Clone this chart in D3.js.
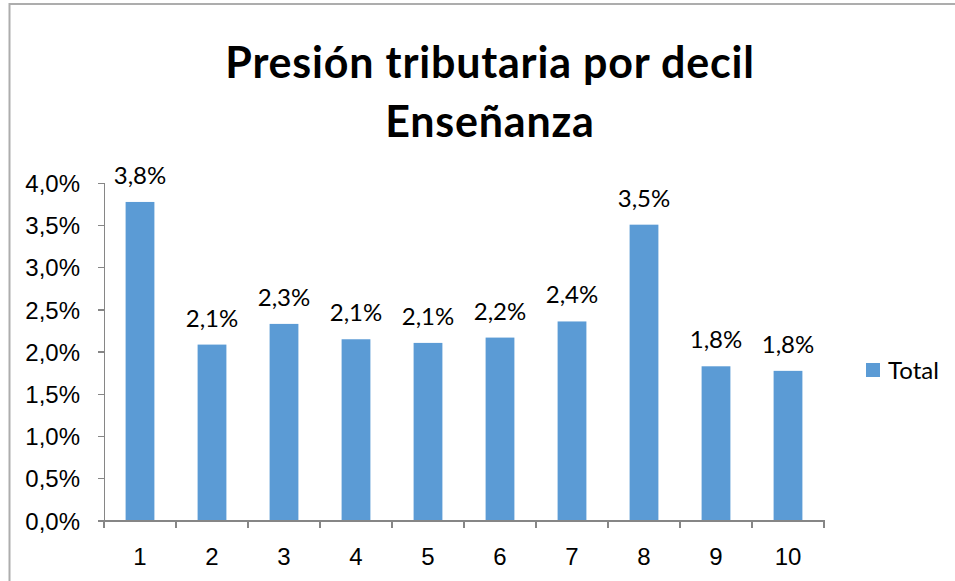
<!DOCTYPE html>
<html lang="es">
<head>
<meta charset="UTF-8">
<title>Presión tributaria por decil - Enseñanza</title>
<script src="https://d3js.org/d3.v7.min.js"></script>
<style>
    body { margin: 0; background: #fff; }
    svg { font-family: Lato, "Open Sans", sans-serif; }
    .axis path, .axis line { stroke: #868686; stroke-width: 1.3; shape-rendering: crispEdges; }
    .axis text { fill: #000; font-size: 24px; }
</style>
</head>
<body>
<div id="chart"></div>
<script>
    // data
    const deciles = ["1", "2", "3", "4", "5", "6", "7", "8", "9", "10"];
    const total = [3.772, 2.083, 2.328, 2.146, 2.103, 2.166, 2.357, 3.503, 1.826, 1.772];
    const yTicks = [0, 0.5, 1, 1.5, 2, 2.5, 3, 3.5, 4];
    const titleLines = ["Presión tributaria por decil", "Enseñanza"];
    const seriesName = "Total";

    const width = 955, height = 581;
    const margin = { top: 182.7, right: 131, bottom: 60.5, left: 104 };

    const svg = d3.select("#chart").append("svg")
        .attr("width", width)
        .attr("height", height);

    // chart border
    svg.append("rect")
        .attr("x", 9.5).attr("y", 4)
        .attr("width", width + 20).attr("height", height + 20)
        .attr("fill", "none")
        .attr("stroke", "#adadad")
        .attr("stroke-width", 2);

    const x = d3.scaleBand()
        .domain(deciles)
        .range([margin.left, width - margin.right])
        .paddingInner(0.6)
        .paddingOuter(0.3);

    const y = d3.scaleLinear()
        .domain([0, 4])
        .range([height - margin.bottom, margin.top]);

    const fmt = v => d3.format(".1f")(v).replace(".", ",") + "%";

    // title
    svg.selectAll(".title")
        .data(titleLines)
        .join("text")
        .attr("class", "title")
        .attr("x", 490)
        .attr("y", (d, i) => 78 + i * 59)
        .attr("text-anchor", "middle")
        .style("font-size", "43px").style("font-weight", "bold")
        .style("letter-spacing", "0.8px")
        .text(d => d);

    // y axis
    svg.append("g")
        .attr("class", "axis")
        .attr("transform", `translate(${margin.left},0)`)
        .call(d3.axisLeft(y).tickValues(yTicks).tickSize(6).tickPadding(18).tickFormat(fmt))
        .call(g => g.selectAll("text").attr("dy", "0.36em"));

    // bars
    svg.append("g").selectAll("rect")
        .data(total)
        .join("rect")
        .attr("x", (d, i) => x(deciles[i]))
        .attr("y", d => y(d))
        .attr("width", x.bandwidth())
        .attr("height", d => y(0) - y(d))
        .attr("fill", "#5b9bd5");

    // x axis with ticks between categories
    const xAxis = svg.append("g")
        .attr("class", "axis")
        .attr("transform", `translate(0,${y(0)})`)
        .call(d3.axisBottom(x).tickSize(0).tickPadding(27));
    xAxis.selectAll(".tick text").attr("dy", "0.71em");
    xAxis.selectAll(".sep")
        .data(d3.range(deciles.length + 1))
        .join("line")
        .attr("class", "sep")
        .attr("x1", i => margin.left + i * (width - margin.right - margin.left) / deciles.length)
        .attr("x2", i => margin.left + i * (width - margin.right - margin.left) / deciles.length)
        .attr("y1", 0).attr("y2", 7);

    // data labels
    svg.append("g").selectAll("text")
        .data(total)
        .join("text")
        .attr("x", (d, i) => x(deciles[i]) + x.bandwidth() / 2)
        .attr("y", d => y(d) - 18)
        .attr("text-anchor", "middle")
        .style("font-size", "24px")
        .text(fmt);

    // legend
    const legend = svg.append("g").attr("transform", "translate(866,370)");
    legend.append("rect")
        .attr("x", 0).attr("y", -7)
        .attr("width", 14).attr("height", 14)
        .attr("fill", "#5b9bd5");
    legend.append("text")
        .attr("x", 22).attr("y", 8.5)
        .style("font-size", "24px")
        .text(seriesName);
</script>
</body>
</html>
